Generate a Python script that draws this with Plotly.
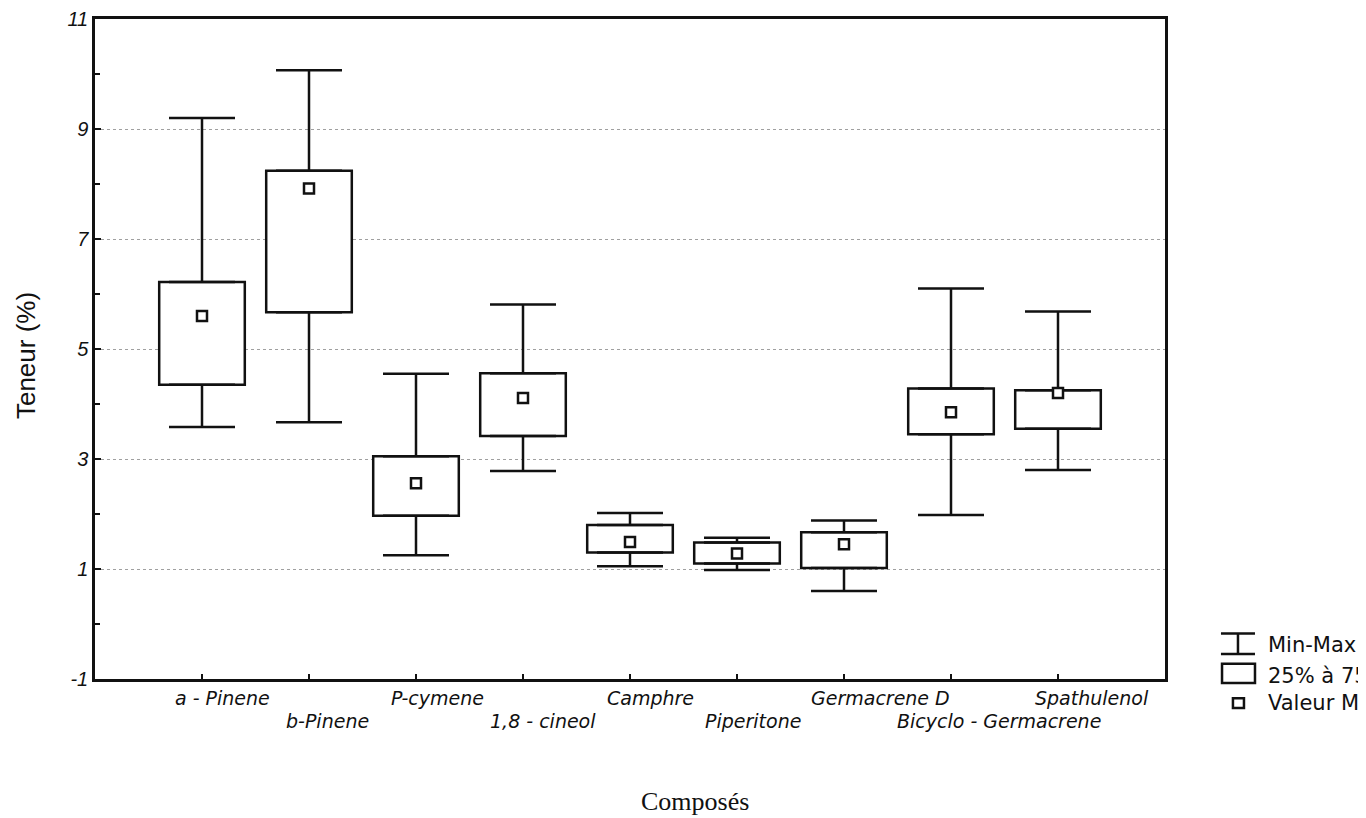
import plotly.graph_objects as go

categories = ["a - Pinene", "b-Pinene", "P-cymene", "1,8 - cineol", "Camphre",
              "Piperitone", "Germacrene D", "Bicyclo - Germacrene", "Spathulenol"]
v_min = [3.58, 3.67, 1.25, 2.78, 1.05, 0.98, 0.60, 1.98, 2.80]
q1 = [4.35, 5.67, 1.97, 3.42, 1.30, 1.10, 1.02, 3.45, 3.55]
median = [5.60, 7.92, 2.56, 4.11, 1.49, 1.28, 1.45, 3.85, 4.20]
q3 = [6.22, 8.24, 3.05, 4.56, 1.80, 1.48, 1.67, 4.28, 4.25]
v_max = [9.20, 10.07, 4.55, 5.81, 2.02, 1.57, 1.88, 6.10, 5.68]
y_ticks = [-1, 1, 3, 5, 7, 9, 11]
legend_labels = ["Min-Max", "25% à 75%", "Valeur Médiane"]

# label placement offsets (style only, px)
label_shift = [20, 18, 21, 20, 20, 16, 36, 48, 34]

xs = list(range(1, len(categories) + 1))
INK = "#111111"
FONT = "Arial, Liberation Sans, sans-serif"
WFONT = "DejaVu Sans, Arial, sans-serif"

fig = go.Figure()

# boxes (25% to 75%)
fig.add_trace(go.Bar(
    x=xs, y=[b - a for a, b in zip(q1, q3)], base=q1, width=0.8,
    marker=dict(color="white", line=dict(color=INK, width=2.5)),
    showlegend=False, hoverinfo="skip"))

# upper whiskers
fig.add_trace(go.Scatter(
    x=xs, y=q3, mode="markers", marker=dict(size=1, color=INK, opacity=0),
    error_y=dict(type="data", symmetric=False,
                 array=[b - a for a, b in zip(q3, v_max)],
                 arrayminus=[0] * len(xs), color=INK, thickness=2.5, width=33),
    showlegend=False, hoverinfo="skip"))
# lower whiskers
fig.add_trace(go.Scatter(
    x=xs, y=q1, mode="markers", marker=dict(size=1, color=INK, opacity=0),
    error_y=dict(type="data", symmetric=False,
                 array=[0] * len(xs),
                 arrayminus=[a - b for a, b in zip(q1, v_min)],
                 color=INK, thickness=2.5, width=33),
    showlegend=False, hoverinfo="skip"))
# medians
fig.add_trace(go.Scatter(
    x=xs, y=median, mode="markers",
    marker=dict(symbol="square", size=10, color="white", line=dict(color=INK, width=2.5)),
    showlegend=False, hoverinfo="skip"))

annotations = []
for i, (x, lab) in enumerate(zip(xs, categories)):
    annotations.append(dict(
        x=x, y=-0.029 if i % 2 == 0 else -0.064, xref="x", yref="paper",
        text=lab, showarrow=False, xshift=label_shift[i], yanchor="middle", xanchor="center",
        font=dict(family=WFONT, size=19, color=INK, style="italic")))

annotations.append(dict(x=0.561, y=-0.186, xref="paper", yref="paper", text="Composés",
                        showarrow=False, yanchor="middle",
                        font=dict(family="Liberation Serif, Times New Roman, serif", size=26, color=INK)))
annotations.append(dict(x=-0.065, y=0.49, xref="paper", yref="paper", text="Teneur (%)",
                        textangle=-90, showarrow=False, xanchor="center", yanchor="middle",
                        font=dict(family=FONT, size=26, color=INK)))

# legend (outside right)
leg_y = [0.052, 0.004, -0.036]
for lab, yy in zip(legend_labels, leg_y):
    annotations.append(dict(x=1.094, y=yy, xref="paper", yref="paper", text=lab,
                            showarrow=False, xanchor="left", yanchor="middle",
                            font=dict(family=WFONT, size=21, color=INK)))

shapes = [
    dict(type="line", xref="paper", yref="paper", x0=1.0523, x1=1.0841, y0=0.069, y1=0.069,
         line=dict(color=INK, width=2.5)),
    dict(type="line", xref="paper", yref="paper", x0=1.0523, x1=1.0841, y0=0.038, y1=0.038,
         line=dict(color=INK, width=2.5)),
    dict(type="line", xref="paper", yref="paper", x0=1.0682, x1=1.0682, y0=0.038, y1=0.069,
         line=dict(color=INK, width=2.5)),
    dict(type="rect", xref="paper", yref="paper", x0=1.0533, x1=1.0841, y0=-0.006, y1=0.023,
         line=dict(color=INK, width=2.5), fillcolor="white"),
    dict(type="rect", xref="paper", yref="paper", x0=1.0635, x1=1.0738, y0=-0.044, y1=-0.029,
         line=dict(color=INK, width=2.5), fillcolor="white"),
]

fig.update_layout(
    width=1358, height=810,
    margin=dict(l=87, r=201, t=11, b=139, autoexpand=False),
    paper_bgcolor="white", plot_bgcolor="white",
    annotations=annotations, shapes=shapes,
    showlegend=False,
    xaxis=dict(range=[0, 10], tickvals=xs, showticklabels=False, automargin=False,
               ticks="inside", ticklen=5, tickwidth=1.5, tickcolor=INK,
               showline=True, linecolor=INK, linewidth=2.5, mirror=True,
               showgrid=False, zeroline=False),
    yaxis=dict(range=[-1, 11], tickvals=y_ticks, ticktext=[str(v) for v in y_ticks],
               automargin=False, ticklabeloverflow="allow",
               ticks="inside", ticklen=6, tickwidth=1.5, tickcolor=INK,
               minor=dict(dtick=1, tick0=0, ticks="inside", ticklen=5, tickcolor=INK, showgrid=False),
               showline=True, linecolor=INK, linewidth=2.5, mirror=True,
               showgrid=True, gridcolor="#a0a0a0", griddash="dot", gridwidth=1,
               zeroline=False,
               tickfont=dict(family=FONT, size=20, color=INK, style="italic")),
)

fig.write_html("out.html")
